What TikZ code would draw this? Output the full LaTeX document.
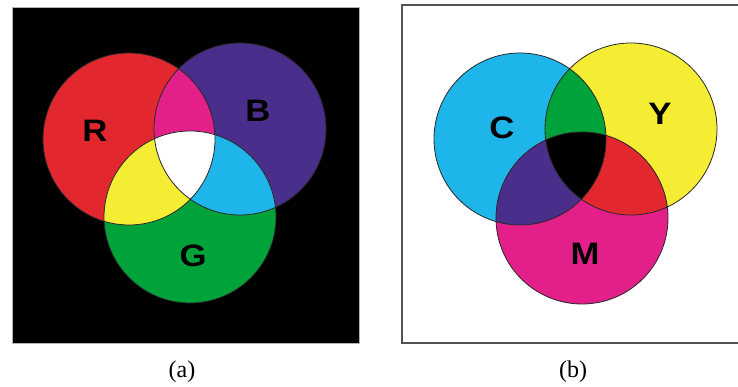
\documentclass[tikz,border=0pt]{standalone}
\usepackage{fontspec}
\setmainfont{Liberation Serif}
\newfontfamily\lblfont{Liberation Sans}
\definecolor{cR}{RGB}{226,40,46}
\definecolor{cB}{RGB}{74,46,139}
\definecolor{cG}{RGB}{0,163,58}
\definecolor{cM}{RGB}{227,32,137}
\definecolor{cY}{RGB}{245,237,52}
\definecolor{cC}{RGB}{30,182,234}
\definecolor{edge}{RGB}{40,40,40}
\begin{document}
\begin{tikzpicture}[x=1pt,y=-1pt,
  lbl/.style={font=\lblfont\bfseries\fontsize{31}{33}\selectfont, text=black, inner sep=0pt, xscale=1.12},
  captext/.style={font=\fontsize{24}{26}\selectfont, inner sep=0pt},
  ring/.style={draw=edge, line width=0.8pt}]
\useasboundingbox (0,0) rectangle (738,387);
\clip (0,0) rectangle (738,387);
\def\rad{86}
% ---------- panel (a) ----------
\coordinate (Rc) at (129,139);
\coordinate (Bc) at (240,129);
\coordinate (Gc) at (190,217);
\fill[black] (12,7) rectangle (359,343);
\draw[gray!60, line width=0.6pt] (12,7) rectangle (359,343);
\fill[cR] (Rc) circle (\rad);
\fill[cB] (Bc) circle (\rad);
\fill[cG] (Gc) circle (\rad);
\begin{scope}\clip (Rc) circle (\rad); \fill[cM] (Bc) circle (\rad);\end{scope}
\begin{scope}\clip (Rc) circle (\rad); \fill[cY] (Gc) circle (\rad);\end{scope}
\begin{scope}\clip (Bc) circle (\rad); \fill[cC] (Gc) circle (\rad);\end{scope}
\begin{scope}\clip (Rc) circle (\rad); \clip (Bc) circle (\rad); \fill[white] (Gc) circle (\rad);\end{scope}
\draw[ring] (Rc) circle (\rad) (Bc) circle (\rad) (Gc) circle (\rad);
\node[lbl] (R) at (95,131) {R};
\node[lbl] (B) at (258,111) {B};
\node[lbl] (G) at (193,256) {G};
\node[captext] (capa) at (182,372) {(a)};
% ---------- panel (b) ----------
\coordinate (Cc) at (520,139);
\coordinate (Yc) at (631,129);
\coordinate (Mc) at (582,218);
\fill[white] (402,5) rectangle (745,343);
\draw[edge!80, line width=1.5pt] (402,5) rectangle (745,343);
\fill[cC] (Cc) circle (\rad);
\fill[cY] (Yc) circle (\rad);
\fill[cM] (Mc) circle (\rad);
\begin{scope}\clip (Cc) circle (\rad); \fill[cG] (Yc) circle (\rad);\end{scope}
\begin{scope}\clip (Cc) circle (\rad); \fill[cB] (Mc) circle (\rad);\end{scope}
\begin{scope}\clip (Yc) circle (\rad); \fill[cR] (Mc) circle (\rad);\end{scope}
\begin{scope}\clip (Cc) circle (\rad); \clip (Yc) circle (\rad); \fill[black] (Mc) circle (\rad);\end{scope}
\draw[ring] (Cc) circle (\rad) (Yc) circle (\rad) (Mc) circle (\rad);
\node[lbl] (C) at (502,128) {C};
\node[lbl] (Y) at (660,114) {Y};
\node[lbl] (M) at (585,254) {M};
\node[captext] (capb) at (573,372) {(b)};
\end{tikzpicture}
\end{document}
